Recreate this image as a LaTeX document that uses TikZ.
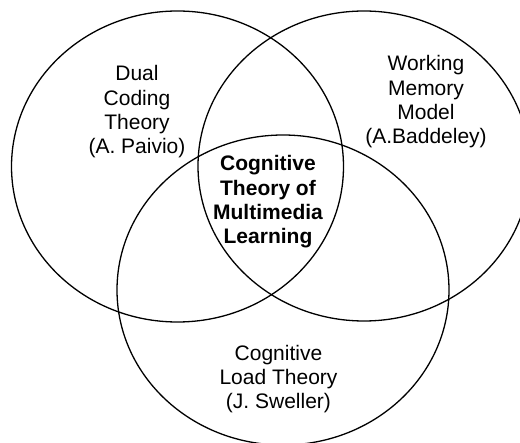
\documentclass[tikz,border=0pt]{standalone}
\usepackage{fontspec}
\setmainfont{Liberation Sans}
\begin{document}
\begin{tikzpicture}[x=1pt,y=-1pt,
  ring/.style={draw=black,line width=1.3pt},
  lbl/.style={align=center,font=\fontsize{21}{24.3}\selectfont,inner sep=0pt},
  core/.style={lbl,font=\fontsize{21}{24.3}\selectfont\bfseries}]
\useasboundingbox (0,0) rectangle (520,443);
\begin{scope}
\clip (0,0) rectangle (520,443);
\draw[ring] (177.5,166.5) ellipse [x radius=166, y radius=155.5];
\draw[ring] (364,166) ellipse [x radius=166, y radius=155];
\draw[ring] (283,290) ellipse [x radius=166, y radius=155];
\end{scope}
\node[lbl] (dual) at (137,112) {Dual\\Coding\\Theory\\(A. Paivio)};
\node[lbl] (wm) at (426,102) {Working\\Memory\\Model\\(A.Baddeley)};
\node[core] (ctml) at (268,202) {Cognitive\\Theory of\\Multimedia\\Learning};
\node[lbl] (clt) at (278.5,379) {Cognitive\\Load Theory\\(J. Sweller)};
\end{tikzpicture}
\end{document}
